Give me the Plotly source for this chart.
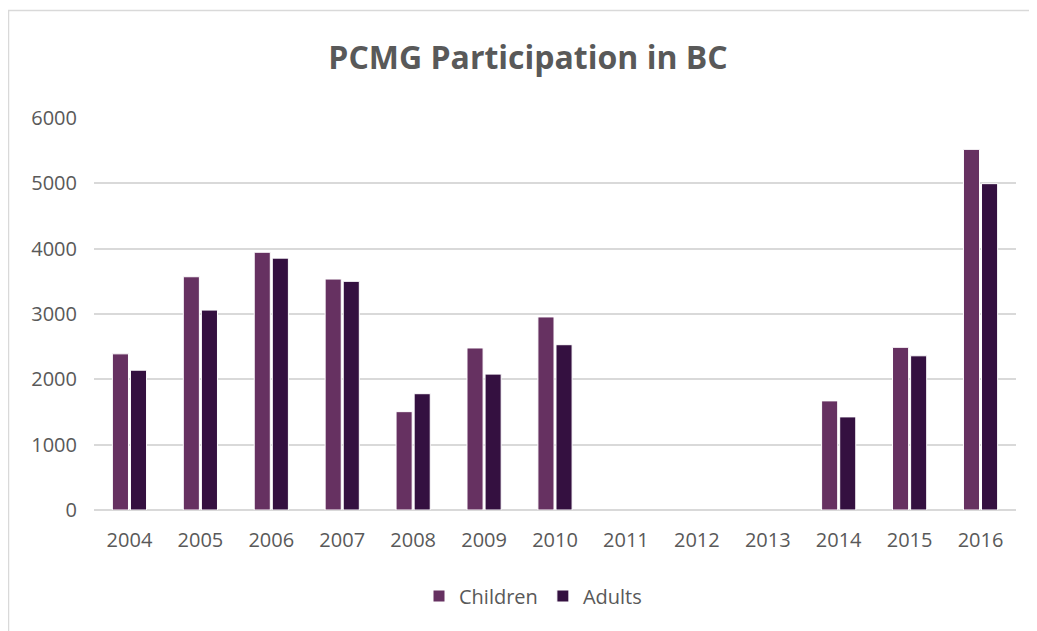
import plotly.graph_objects as go

years = ["2004", "2005", "2006", "2007", "2008", "2009", "2010",
         "2011", "2012", "2013", "2014", "2015", "2016"]
children = [2390, 3570, 3945, 3535, 1505, 2480, 2955, None, None, None, 1670, 2490, 5520]
adults = [2140, 3060, 3855, 3500, 1780, 2080, 2530, None, None, None, 1425, 2360, 4995]
y_ticks = [0, 1000, 2000, 3000, 4000, 5000, 6000]

TXT = "#595959"
FONT = "Open Sans"

# page body has an 8px margin: work in screen pixels, then convert
O = 8
W, H = 1037 - O, 631 - O
plot_x0, plot_x1 = 94 - O, 1016 - O
plot_y0, plot_y1 = 118 - O, 510 - O
L, R, T, B = plot_x0, W - plot_x1, plot_y0, H - plot_y1
pw, ph = plot_x1 - plot_x0, plot_y1 - plot_y0


def px(x):
    return (x - O - plot_x0) / pw


def py(y):
    return (plot_y1 - (y - O)) / ph


fig = go.Figure()
fig.add_trace(go.Bar(name="Children", x=years, y=children,
                     marker=dict(color="#663161", line=dict(color="#ffffff", width=1))))
fig.add_trace(go.Bar(name="Adults", x=years, y=adults,
                     marker=dict(color="#341040", line=dict(color="#ffffff", width=1))))

fig.update_layout(
    width=W, height=H,
    margin=dict(l=L, r=R, t=T, b=B, pad=0, autoexpand=False),
    paper_bgcolor="white", plot_bgcolor="white",
    barmode="group", bargap=0.49, bargroupgap=0.11,
    title=dict(text="<b>PCMG Participation in BC</b>", x=(528 - O) / W, xanchor="center",
               y=1 - (58 - O) / H, yanchor="middle",
               font=dict(family=FONT, size=32, color=TXT)),
    font=dict(family=FONT, color=TXT),
    legend=dict(orientation="h", xref="container", x=(533 - O) / W, xanchor="center",
                yref="container", y=1 - (596 - O) / H, yanchor="middle",
                font=dict(family=FONT, size=20, color=TXT),
                itemwidth=30, traceorder="normal"),
    xaxis=dict(showgrid=False, showline=False, ticks="", automargin=False,
               tickfont=dict(family=FONT, size=20, color=TXT),
               ticklabelstandoff=16),
    yaxis=dict(range=[0, 6000], tickvals=y_ticks, showgrid=True, automargin=False,
               gridcolor="#D9D9D9", gridwidth=1.5, zeroline=True,
               zerolinecolor="#D9D9D9", zerolinewidth=1.5, showline=False, ticks="",
               tickfont=dict(family=FONT, size=20, color=TXT),
               ticklabelstandoff=16),
)

# chart-area border (left and top edges visible in the reference)
fig.add_shape(type="rect", xref="paper", yref="paper",
              x0=px(O + 0.5), x1=px(1037 + 30),
              y0=py(631 + 30), y1=py(O + 2.5),
              line=dict(color="#D9D9D9", width=1.5), fillcolor="rgba(0,0,0,0)", layer="below")

fig.write_html("out.html")
